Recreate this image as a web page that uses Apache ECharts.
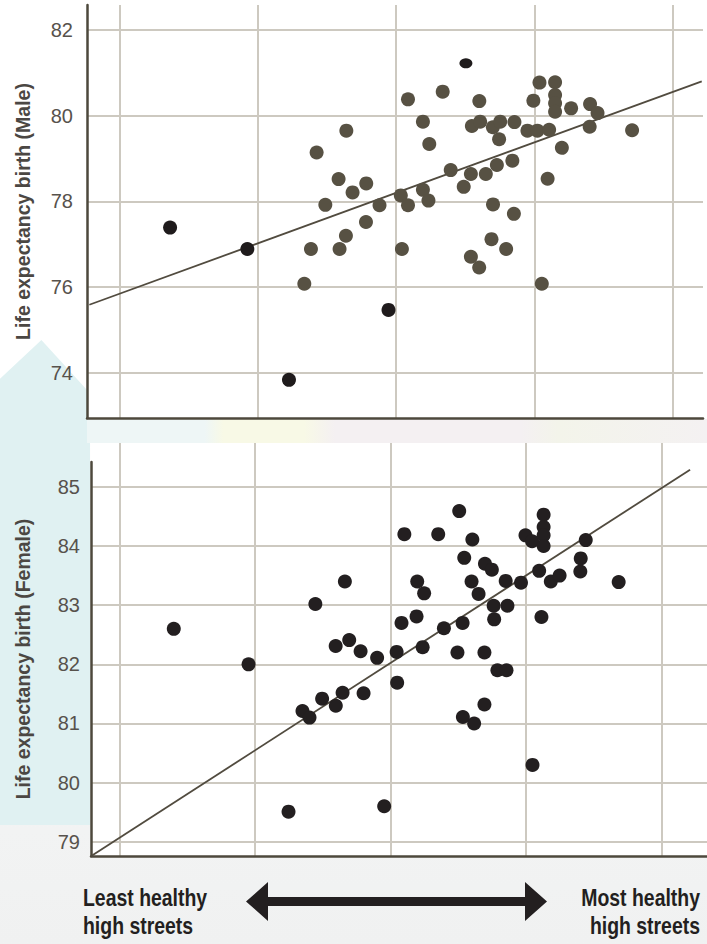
<!DOCTYPE html>
<html>
<head>
<meta charset="utf-8">
<title>Life expectancy and healthy high streets</title>
<script src="https://cdn.jsdelivr.net/npm/echarts@6/dist/echarts.min.js"></script>
<style>
  html, body { margin: 0; padding: 0; }
  body {
    width: 707px; height: 944px; position: relative; overflow: hidden;
    background: linear-gradient(to bottom, #ffffff 0px, #ffffff 420px, #f8f8f8 700px, #f2f3f3 830px, #f0f1f1 944px);
  }
  .deco { position: absolute; }
  #teal {
    left: 0; top: 340px; width: 90px; height: 485px; background: #e0f1f2;
    clip-path: polygon(0 8%, 46% 0, 100% 11%, 100% 100%, 0 100%);
  }
  #band {
    left: 87px; top: 419px; width: 620px; height: 24px;
    background: linear-gradient(to right, #eef6f6 0%, #eef6f6 19%, #f8f9e6 22%, #f8f9e6 35%, #f4f0f2 40%, #f4f0f2 70%, #f3f4ea 76%, #f4f1f2 100%);
  }
  #chart { position: absolute; left: 0; top: 0; width: 707px; height: 944px; }
</style>
</head>
<body>
<div class="deco" id="teal"></div>
<div class="deco" id="band"></div>
<div id="chart"></div>
<script>
// High street health score (x) against life expectancy at birth (y)

// Male panel: main cluster
const maleX = [2.335, 2.383, 2.424, 2.487, 2.583, 2.590, 2.636, 2.639, 2.684, 2.783,
  2.781, 2.879, 3.033, 3.041, 3.085, 3.085, 3.193, 3.193, 3.233, 3.239,
  3.336, 3.394, 3.488, 3.540, 3.540, 3.547, 3.601, 3.600, 3.607, 3.648,
  3.689, 3.699, 3.700, 3.728, 3.744, 3.752, 3.795, 3.840, 3.851, 3.855,
  3.949, 3.992, 4.021, 4.036, 4.053, 4.095, 4.106, 4.149, 4.149, 4.149,
  4.149, 4.198, 4.265, 4.399, 4.402, 4.456, 4.706];
const maleY = [76.08, 76.89, 79.14, 77.92, 78.52, 76.89, 77.20, 79.65, 78.21, 78.42,
  77.52, 77.91, 78.14, 76.89, 77.91, 80.38, 78.27, 79.86, 78.02, 79.34,
  80.56, 78.73, 78.34, 78.64, 76.71, 79.76, 80.34, 76.46, 79.86, 78.64,
  77.12, 79.73, 77.93, 78.85, 79.45, 79.86, 76.89, 78.95, 77.71, 79.85,
  79.65, 80.35, 79.65, 80.77, 76.08, 78.53, 79.67, 80.78, 80.48, 80.29,
  80.09, 79.25, 80.17, 79.74, 80.27, 80.06, 79.66];

// Male panel: darker points
const maleDarkX = [1.364, 1.923, 2.224, 2.944];
const maleDarkY = [77.39, 76.89, 73.84, 75.47];
const maleSmallX = [3.504];
const maleSmallY = [81.22];

// Male fitted line (start, end)
const maleTrendX = [0.78, 5.21];
const maleTrendY = [75.59, 80.80];

// Female panel
const femaleX = [1.399, 1.951, 2.246, 2.349, 2.401, 2.444, 2.494, 2.595, 2.594, 2.645,
  2.662, 2.694, 2.778, 2.800, 2.900, 2.952, 3.044, 3.048, 3.080, 3.101,
  3.191, 3.196, 3.236, 3.247, 3.351, 3.393, 3.493, 3.506, 3.531, 3.533,
  3.543, 3.597, 3.603, 3.616, 3.649, 3.692, 3.692, 3.696, 3.747, 3.760,
  3.764, 3.788, 3.849, 3.855, 3.862, 3.962, 3.995, 4.044, 4.047, 4.096,
  4.113, 4.129, 4.129, 4.129, 4.129, 4.182, 4.247, 4.400, 4.403, 4.440,
  4.683];
const femaleY = [82.60, 82.00, 79.51, 81.21, 81.10, 83.02, 81.42, 81.30, 82.31, 81.52,
  83.40, 82.41, 82.22, 81.51, 82.11, 79.60, 82.21, 81.69, 82.70, 84.20,
  82.81, 83.40, 82.29, 83.20, 84.20, 82.61, 82.20, 84.59, 82.70, 81.11,
  83.80, 83.40, 84.11, 81.00, 83.19, 82.20, 81.32, 83.70, 83.60, 82.99,
  82.76, 81.90, 83.41, 81.90, 82.99, 83.38, 84.18, 84.08, 80.30, 83.58,
  82.80, 84.53, 84.32, 84.18, 84.00, 83.40, 83.50, 83.57, 83.79, 84.10,
  83.39];

// Female fitted line (start, end)
const femaleTrendX = [0.79, 5.21];
const femaleTrendY = [78.76, 85.29];

// Axis ranges and tick steps
const maleXRange = [0.763, 5.219];
const maleYRange = [72.95, 82.58];
const maleYStep = 2;
const femaleXRange = [0.788, 5.335];
const femaleYRange = [78.76, 85.42];
const femaleYStep = 1;
const xStep = 1;

// Axis titles and footer captions
const maleTitle = 'Life expectancy birth (Male)';
const femaleTitle = 'Life expectancy birth (Female)';
const leftCaption = 'Least healthy\nhigh streets';
const rightCaption = 'Most healthy\nhigh streets';

const zip = (xs, ys) => xs.map((x, i) => [x, ys[i]]);

const SANS = "'Liberation Sans', Arial, Helvetica, sans-serif";
const AXIS_DARK = '#4d483c';
const GRID_GREY = '#cdc9c0';
const TICK_TEXT = '#57524c';
const TITLE_TEXT = '#4b4743';
const INK = '#231f20';

function valueAxis(opts) {
  return Object.assign({
    type: 'value',
    scale: true,
    axisTick: { show: false },
    axisLine: { show: true, onZero: false, lineStyle: { color: AXIS_DARK, width: 2.5 } },
    axisLabel: { show: false },
    splitLine: { show: true, showMinLine: false, showMaxLine: false, lineStyle: { color: GRID_GREY, width: 2 } }
  }, opts);
}

const chart = echarts.init(document.getElementById('chart'), null, { renderer: 'svg' });

// condensed bold caption, squeezed horizontally around its anchor
function caption(text, x, align) {
  return {
    type: 'text', x: x, y: 884, z: 10, scaleX: 0.845,
    style: {
      text: text, fill: INK, fontSize: 23, fontWeight: 'bold', fontFamily: SANS,
      lineHeight: 28, align: align, verticalAlign: 'top'
    }
  };
}

const option = {
  animation: false,
  grid: [
    // male
    { left: 87, right: 4, top: 5, bottom: 526, show: true, backgroundColor: '#ffffff', borderWidth: 0, containLabel: false, outerBoundsMode: 'none' },
    // female backdrop with vertical rules
    { left: 91, right: 0, top: 443, bottom: 88, show: true, backgroundColor: '#ffffff', borderWidth: 0, containLabel: false, outerBoundsMode: 'none' },
    // female plot
    { left: 91, right: 0, top: 462, bottom: 88, show: false, containLabel: false, outerBoundsMode: 'none' }
  ],
  xAxis: [
    valueAxis({ gridIndex: 0, min: maleXRange[0], max: maleXRange[1], minInterval: xStep, maxInterval: xStep }),
    valueAxis({ gridIndex: 1, min: femaleXRange[0], max: femaleXRange[1], minInterval: xStep, maxInterval: xStep,
      axisLine: { show: false } }),
    valueAxis({ gridIndex: 2, min: femaleXRange[0], max: femaleXRange[1], minInterval: xStep, maxInterval: xStep,
      splitLine: { show: false } })
  ],
  yAxis: [
    valueAxis({
      gridIndex: 0, min: maleYRange[0], max: maleYRange[1], minInterval: maleYStep, maxInterval: maleYStep,
      axisLabel: { show: true, showMinLabel: false, showMaxLabel: false, margin: 14,
        color: TICK_TEXT, fontSize: 20, fontFamily: SANS },
      name: maleTitle, nameLocation: 'middle', nameGap: 54,
      nameTextStyle: { color: TITLE_TEXT, fontSize: 19.5, fontWeight: 'bold', fontFamily: SANS }
    }),
    valueAxis({ gridIndex: 1, min: 0, max: 1, show: false, splitLine: { show: false } }),
    valueAxis({
      gridIndex: 2, min: femaleYRange[0], max: femaleYRange[1], minInterval: femaleYStep, maxInterval: femaleYStep,
      axisLabel: { show: true, showMinLabel: false, showMaxLabel: false, margin: 11,
        color: TICK_TEXT, fontSize: 20, fontFamily: SANS },
      name: femaleTitle, nameLocation: 'middle', nameGap: 58,
      nameTextStyle: { color: TITLE_TEXT, fontSize: 19.5, fontWeight: 'bold', fontFamily: SANS }
    })
  ],
  series: [
    {
      type: 'line', xAxisIndex: 0, yAxisIndex: 0, z: 2,
      data: zip(maleTrendX, maleTrendY), showSymbol: false, symbol: 'none',
      lineStyle: { color: '#514b3f', width: 1.8 }, silent: true
    },
    {
      type: 'scatter', xAxisIndex: 0, yAxisIndex: 0, z: 3,
      data: zip(maleX, maleY), symbolSize: 14,
      itemStyle: { color: '#575143', opacity: 1 }
    },
    {
      type: 'scatter', xAxisIndex: 0, yAxisIndex: 0, z: 3,
      data: zip(maleDarkX, maleDarkY), symbolSize: 14,
      itemStyle: { color: '#1f1b1c', opacity: 1 }
    },
    {
      type: 'scatter', xAxisIndex: 0, yAxisIndex: 0, z: 3,
      data: zip(maleSmallX, maleSmallY), symbolSize: [13, 10],
      itemStyle: { color: '#1f1b1c', opacity: 1 }
    },
    {
      type: 'line', xAxisIndex: 2, yAxisIndex: 2, z: 2,
      data: zip(femaleTrendX, femaleTrendY), showSymbol: false, symbol: 'none',
      lineStyle: { color: '#514b3f', width: 1.8 }, silent: true
    },
    {
      type: 'scatter', xAxisIndex: 2, yAxisIndex: 2, z: 3,
      data: zip(femaleX, femaleY), symbolSize: 14,
      itemStyle: { color: INK, opacity: 1 }
    }
  ],
  graphic: [
    caption(leftCaption, 83, 'left'),
    caption(rightCaption, 700, 'right'),
    {
      // double-headed arrow between the captions
      type: 'polygon', z: 10,
      shape: { points: [[246, 901.5], [268, 882], [268, 897], [525, 897], [525, 882], [547, 901.5], [525, 921], [525, 906], [268, 906], [268, 921]] },
      style: { fill: INK }
    }
  ]
};

chart.setOption(option);
</script>
</body>
</html>
